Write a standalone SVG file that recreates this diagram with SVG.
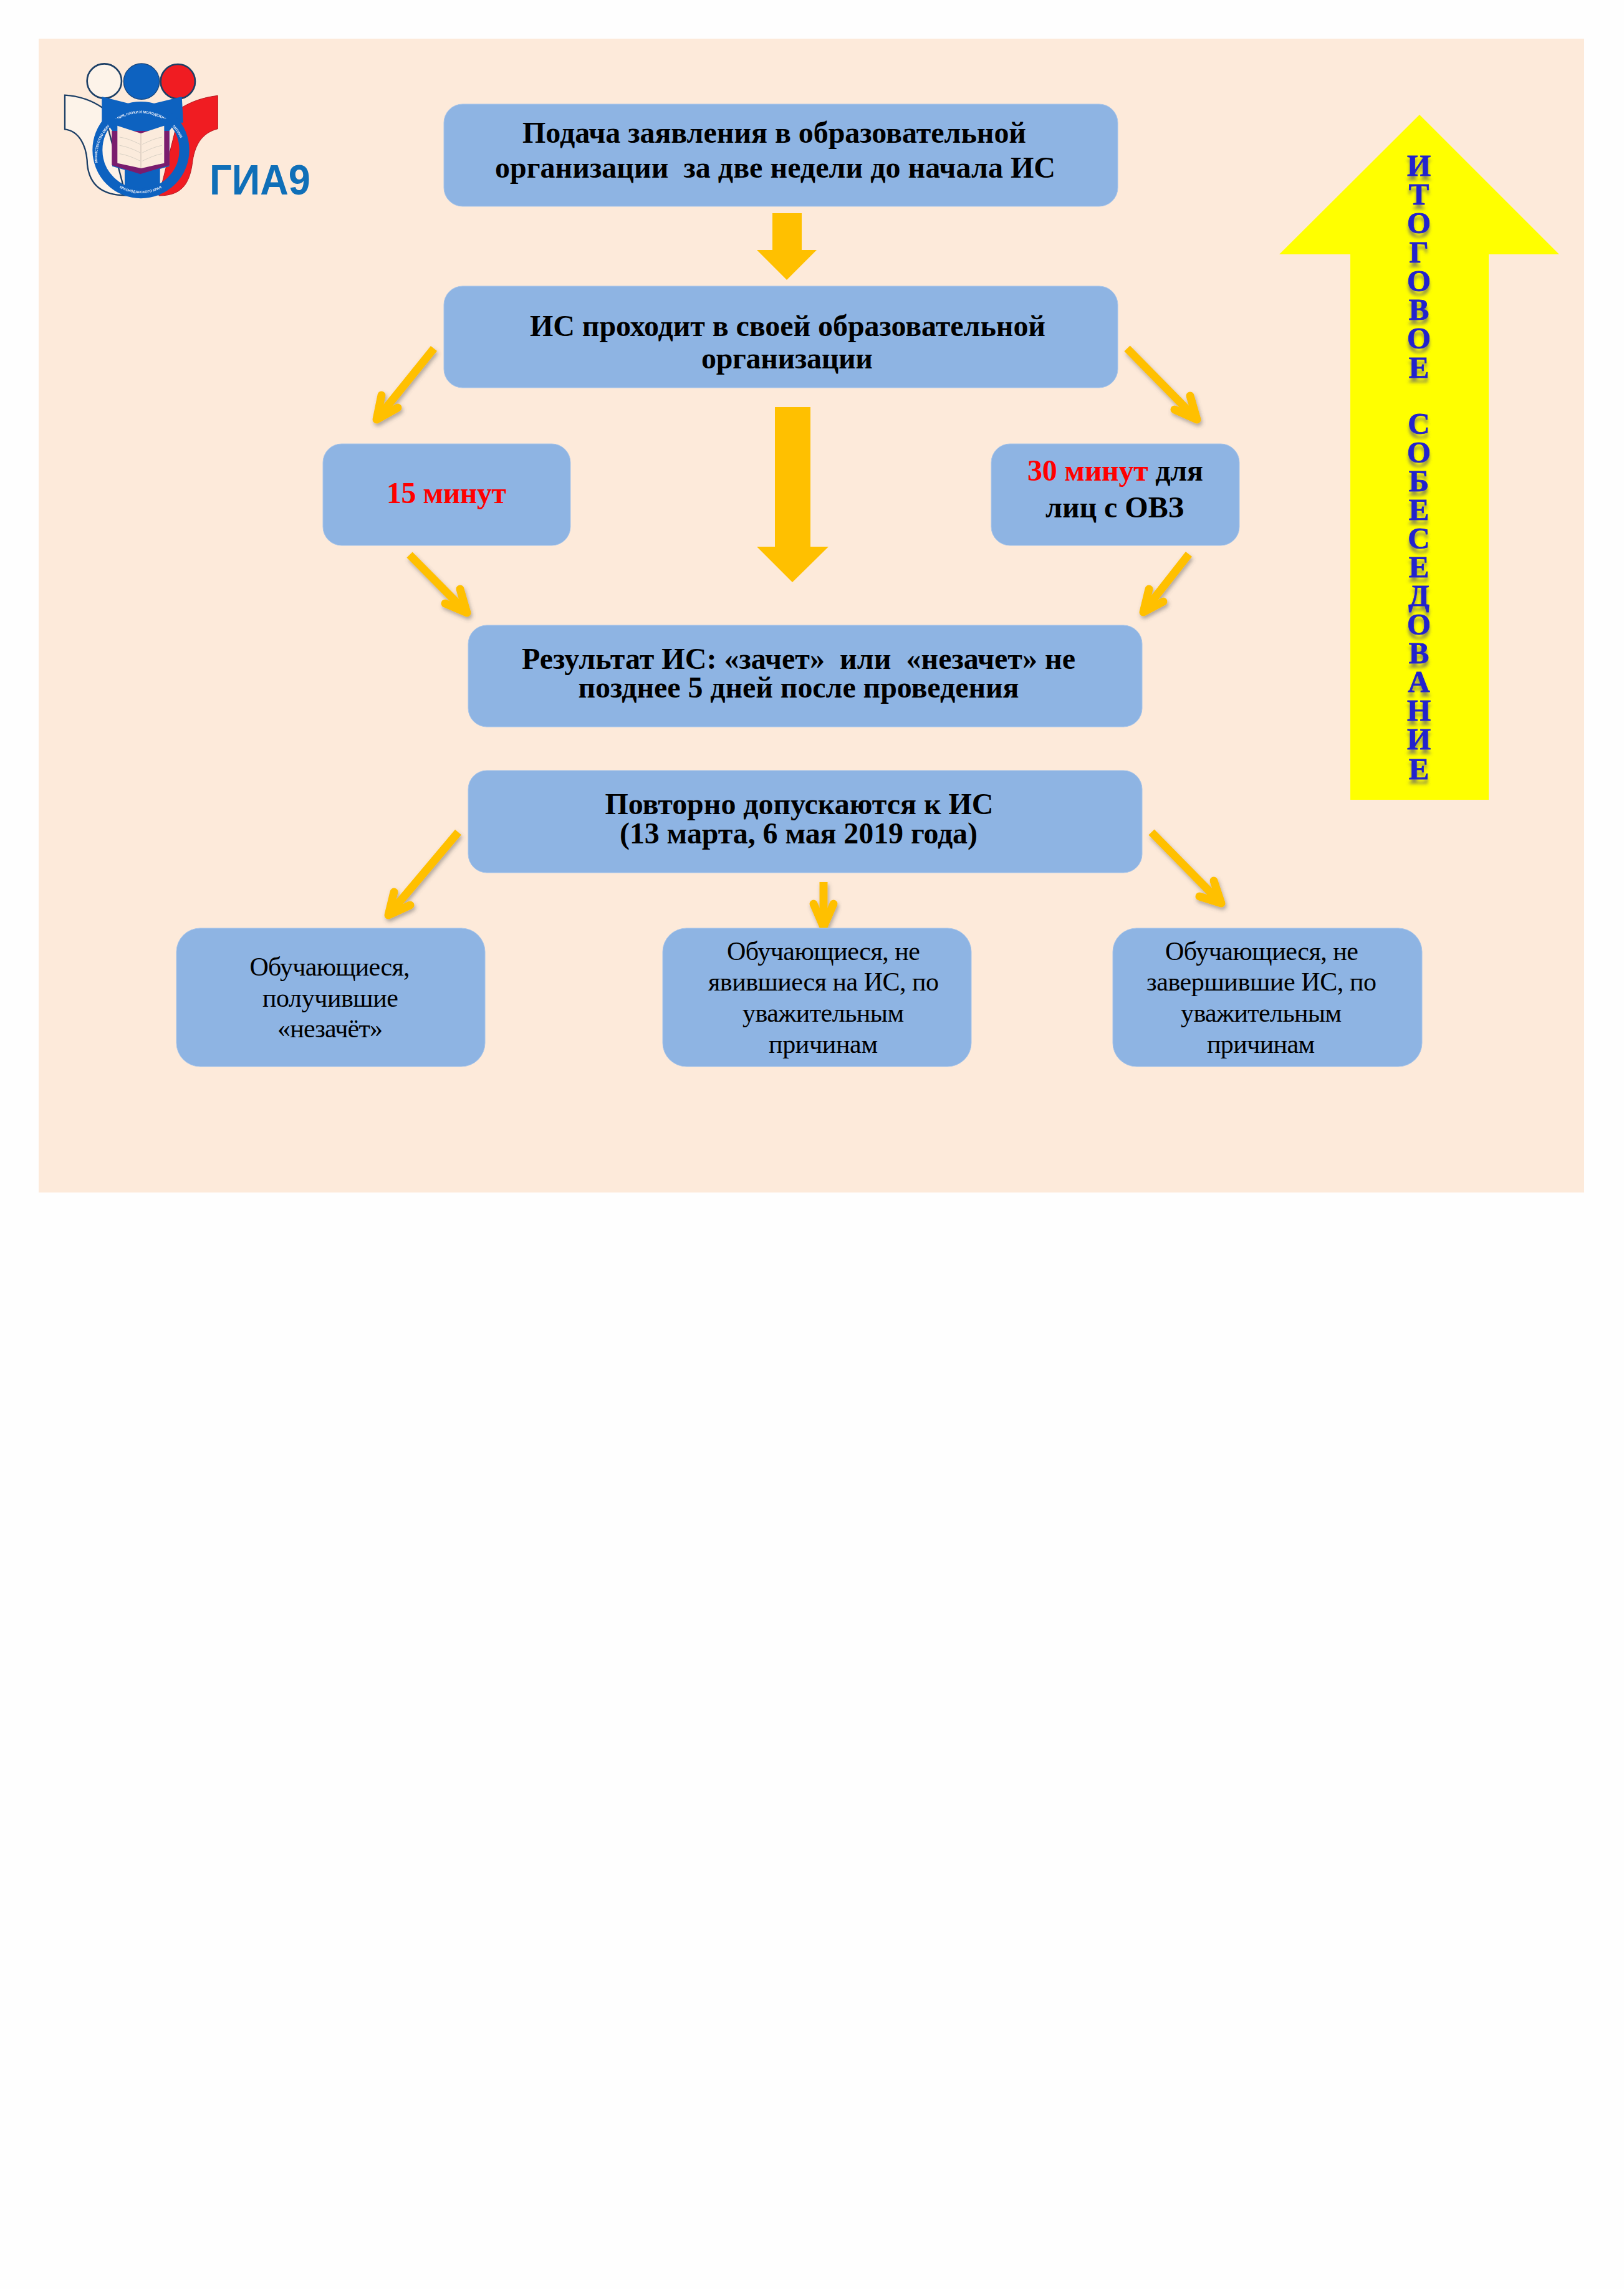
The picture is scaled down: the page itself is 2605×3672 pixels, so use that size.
<svg xmlns="http://www.w3.org/2000/svg" width="2605" height="3672" viewBox="0 0 2605 3672">
<style>
.box{fill:#8EB4E3;stroke:#A9C6EA;stroke-width:1}
.b{font-family:"Liberation Serif","Times New Roman",serif;font-weight:bold;font-size:48px;text-anchor:middle;fill:#000}
.r{font-family:"Liberation Serif","Times New Roman",serif;font-size:42px;text-anchor:middle;fill:#000}
.red{fill:#FF0000}
.big{fill:#FFC000}
.conn{filter:url(#sh)}
.conn path{fill:none;stroke:#FFC000;stroke-width:13;stroke-linejoin:round}
.conn path.h{stroke-linecap:round}
.micro{font-family:"Liberation Sans",Arial,sans-serif;font-weight:bold;font-size:17px;fill:#E8EEF8}
</style>
<defs>
<filter id="sh" x="-30%" y="-30%" width="170%" height="170%"><feDropShadow dx="2" dy="4" stdDeviation="3" flood-color="#555" flood-opacity="0.45"/></filter>
<filter id="refl" x="-30%" y="-10%" width="160%" height="130%"><feDropShadow dx="0" dy="7" stdDeviation="2.5" flood-color="#666" flood-opacity="0.7"/></filter>
<filter id="soft" x="-5%" y="-5%" width="110%" height="110%"><feGaussianBlur stdDeviation="0.9"/></filter>
<path id="ringTop" d="M212,560 A210,210 0 1 1 604,560"/>
<path id="ringBot" d="M270,610 A215,215 0 0 0 546,610"/>
</defs>
<rect width="2605" height="3672" fill="#FEFEFE"/>
<rect id="panel" x="62" y="62" width="2479" height="1851" fill="#FDEADA"/>

<g id="logo">
<g transform="translate(90 90) scale(0.3333)" filter="url(#soft)">
<circle cx="232" cy="120" r="83" fill="#FDF3E9" stroke="#1F3F66" stroke-width="8"/>
<circle cx="411" cy="122" r="86" fill="#0F62C0" stroke="#17467F" stroke-width="4"/>
<circle cx="586" cy="122" r="83" fill="#F01C24" stroke="#1F3F66" stroke-width="8"/>
<path d="M42,188C110,192 175,215 225,250L335,670C220,670 160,620 150,520C148,430 110,360 42,352Z" fill="#FDF3E9" stroke="#1F3F66" stroke-width="7"/>
<path d="M778,190C700,200 650,220 600,250L495,672C600,672 640,620 655,520C665,430 700,370 778,350Z" fill="#F01C24" stroke="#B41820" stroke-width="3"/>
<path d="M220,195L350,228H470L605,195L612,320H220Z" fill="#0F62C0"/>
<rect x="330" y="500" width="170" height="170" fill="#0F62C0"/>
<circle cx="408" cy="452" r="209" fill="none" stroke="#0F62C0" stroke-width="48"/>
<text class="micro"><textPath href="#ringTop" startOffset="6%">МИНИСТЕРСТВО ОБРАЗОВАНИЯ, НАУКИ И МОЛОДЕЖНОЙ ПОЛИТИКИ</textPath></text>
<text class="micro"><textPath href="#ringBot" startOffset="14%">КРАСНОДАРСКОГО КРАЯ</textPath></text>
<path d="M230,300H590L545,360V530L405,570L270,530V360Z" fill="#0F62C0"/>
<path d="M268,360H545V525L405,568L268,525Z" fill="#7A1F6E"/>
<path d="M295,335L408,372L520,335V515L410,540L295,515Z" fill="#FBEBDC"/>
<path d="M408,372V538" stroke="#C9BDB0" stroke-width="3"/>
<path d="M305,390C340,395 375,410 405,425M305,430C340,435 375,450 405,465M305,470C340,475 375,490 405,505M415,425C445,410 480,395 510,390M415,465C445,450 480,435 510,430M415,505C445,490 480,475 510,470" fill="none" stroke="#D8D0C4" stroke-width="3"/>
</g>
<text x="336" y="312" font-family="'Liberation Sans',Arial,sans-serif" font-weight="bold" font-size="68" fill="#0F6FB8" textLength="162" lengthAdjust="spacingAndGlyphs">ГИА9</text>
</g>

<g id="connectors">
<polygon class="big" points="1239,342 1286,342 1286,401 1310,401 1262,449 1214,401 1239,401"/>
<polygon class="big" points="1243,653 1300,653 1300,877 1329,877 1271,934 1214,877 1243,877"/>
<g class="conn"><path d="M696,559L604,673"/><path class="h" d="M612,634L604,673L638,654"/></g>
<g class="conn"><path d="M1808,559L1920,673"/><path class="h" d="M1909,635L1920,673L1884,657"/></g>
<g class="conn"><path d="M657,890L749,983"/><path class="h" d="M738,945L749,983L714,968"/></g>
<g class="conn"><path d="M1907,889L1834,982"/><path class="h" d="M1843,945L1834,982L1866,965"/></g>
<g class="conn"><path d="M735,1335L623,1468"/><path class="h" d="M632,1431L623,1468L658,1452"/></g>
<g class="conn"><path d="M1321,1415V1487"/><path class="h" d="M1305,1450L1321,1487L1337,1450"/></g>
<g class="conn"><path d="M1847,1335L1959,1449"/><path class="h" d="M1947,1413L1959,1449L1924,1438"/></g>
</g>

<g id="node-submit">
<rect class="box" x="712" y="167" width="1081" height="164" rx="30"/>
<text class="b" x="1242" y="229" textLength="808">Подача заявления в образовательной</text>
<text class="b" x="1243.5" y="285" textLength="899" xml:space="preserve">организации  за две недели до начала ИС</text>
</g>
<g id="node-place">
<rect class="box" x="712" y="459" width="1081" height="163" rx="30"/>
<text class="b" x="1263.5" y="539" textLength="827">ИС проходит в своей образовательной</text>
<text class="b" x="1262.5" y="591" textLength="275">организации</text>
</g>
<g id="node-15">
<rect class="box" x="518" y="712" width="397" height="163" rx="30"/>
<text class="b red" x="716" y="807" textLength="192">15 минут</text>
</g>
<g id="node-30">
<rect class="box" x="1590" y="712" width="398" height="163" rx="30"/>
<text class="b" x="1789" y="771" textLength="282"><tspan class="red">30 минут</tspan> для</text>
<text class="b" x="1788" y="830" textLength="222">лиц с ОВЗ</text>
</g>
<g id="node-result">
<rect class="box" x="751" y="1003" width="1081" height="163" rx="30"/>
<text class="b" x="1281" y="1073" textLength="888" xml:space="preserve">Результат ИС: «зачет»  или  «незачет» не</text>
<text class="b" x="1281" y="1119" textLength="707">позднее 5 дней после проведения</text>
</g>
<g id="node-retake">
<rect class="box" x="751" y="1236" width="1081" height="164" rx="30"/>
<text class="b" x="1282" y="1306" textLength="623">Повторно допускаются к ИС</text>
<text class="b" x="1281" y="1353" textLength="574">(13 марта, 6 мая 2019 года)</text>
</g>
<g id="node-fail">
<rect class="box" x="283" y="1489" width="495" height="222" rx="38"/>
<text class="r" x="529" y="1565" textLength="257">Обучающиеся,</text>
<text class="r" x="530" y="1615" textLength="218">получившие</text>
<text class="r" x="529.5" y="1664" textLength="169">«незачёт»</text>
</g>
<g id="node-absent">
<rect class="box" x="1063" y="1489" width="495" height="222" rx="38"/>
<text class="r" x="1321" y="1540" textLength="310">Обучающиеся, не</text>
<text class="r" x="1321" y="1589" textLength="370">явившиеся на ИС, по</text>
<text class="r" x="1320.5" y="1639" textLength="259">уважительным</text>
<text class="r" x="1320.5" y="1689" textLength="175">причинам</text>
</g>
<g id="node-unfinished">
<rect class="box" x="1785" y="1489" width="496" height="222" rx="38"/>
<text class="r" x="2024" y="1540" textLength="310">Обучающиеся, не</text>
<text class="r" x="2023.5" y="1589" textLength="369">завершившие ИС, по</text>
<text class="r" x="2023" y="1639" textLength="258">уважительным</text>
<text class="r" x="2022.5" y="1689" textLength="173">причинам</text>
</g>
<g id="node-final">
<polygon points="2277,184 2501,408 2388,408 2388,1283 2166,1283 2166,408 2052,408" fill="#FFFF00"/>
<text font-family="'Liberation Serif','Times New Roman',serif" font-weight="bold" font-size="49" fill="#2222CC" stroke="#2222CC" stroke-width="0.8" text-anchor="middle" filter="url(#refl)" x="2276 2276 2276 2276 2276 2276 2276 2276 2276 2276 2276 2276 2276 2276 2276 2276 2276 2276 2276 2276 2276 2276" y="281.6 327.9 374.2 420.5 466.8 513.1 559.4 605.7 650 696.4 742.4 788.4 834.4 880.4 926.4 972.4 1018.4 1064.4 1110.4 1156.4 1202.4 1250">ИТОГОВОЕ СОБЕСЕДОВАНИЕ</text>
</g>
</svg>
